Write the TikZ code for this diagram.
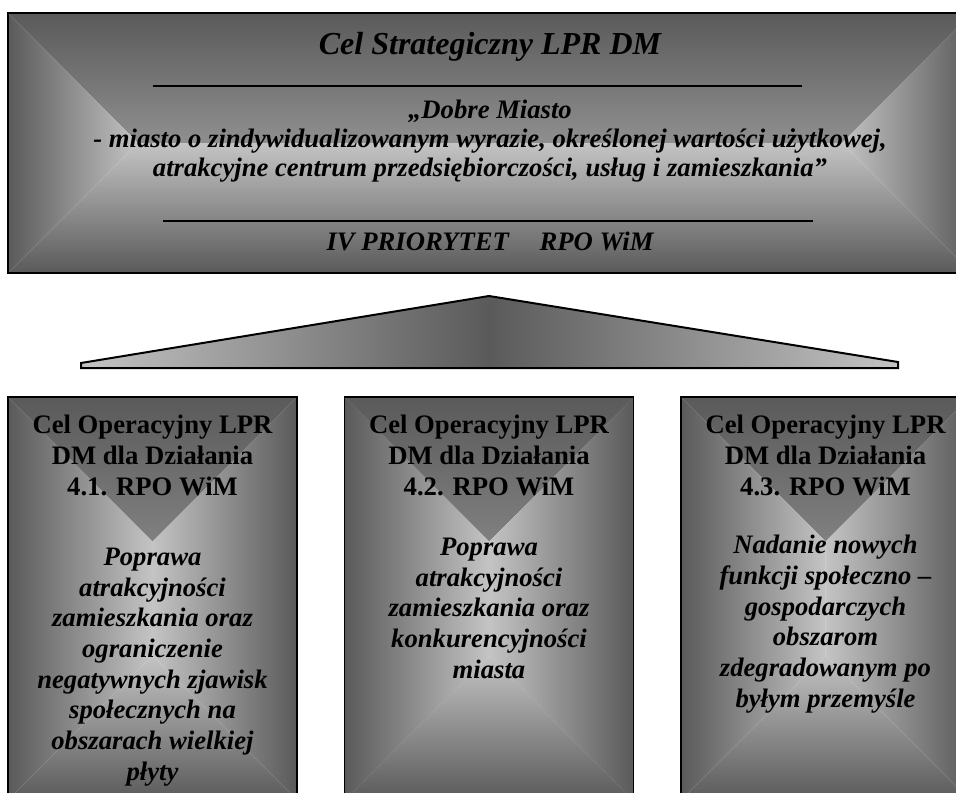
\documentclass[tikz,border=0pt]{standalone}
\usepackage{fontspec}
\setmainfont{Liberation Serif}

\definecolor{edgegray}{RGB}{90,90,90}
\definecolor{midgray}{RGB}{196,196,196}

% rectangular "from centre" shading, #1 = box, #2 = half of the shorter side
\newcommand{\insetshade}[2]{%
  \shade[top color=edgegray, bottom color=midgray] (#1.north west) -- (#1.north east) -- ([xshift=-#2,yshift=-#2]#1.north east) -- ([xshift=#2,yshift=-#2]#1.north west) -- cycle;
  \shade[top color=midgray, bottom color=edgegray] (#1.south west) -- (#1.south east) -- ([xshift=-#2,yshift=#2]#1.south east) -- ([xshift=#2,yshift=#2]#1.south west) -- cycle;
  \shade[left color=edgegray, right color=midgray] (#1.north west) -- ([xshift=#2,yshift=-#2]#1.north west) -- ([xshift=#2,yshift=#2]#1.south west) -- (#1.south west) -- cycle;
  \shade[left color=midgray, right color=edgegray] (#1.north east) -- ([xshift=-#2,yshift=-#2]#1.north east) -- ([xshift=-#2,yshift=#2]#1.south east) -- (#1.south east) -- cycle;
}

\begin{document}
\begin{tikzpicture}[
  x=0.75pt, y=-0.75pt,
  bigbox/.style={draw, line width=1.5pt, inner sep=0pt, outer sep=0pt, minimum width=723pt, minimum height=195pt,
    path picture={\insetshade{path picture bounding box}{97.5pt}}},
  opbox/.style={draw, line width=1.1pt, inner sep=0pt, outer sep=0pt, minimum width=216.75pt, minimum height=302.25pt,
    path picture={\insetshade{path picture bounding box}{108.4pt}}},
  title/.style={anchor=base, inner sep=0pt, font=\fontsize{24}{28}\selectfont\bfseries\itshape},
  vision/.style={anchor=base, inner sep=0pt, align=center, font=\fontsize{20}{21.75}\selectfont\bfseries\itshape},
  ophead/.style={anchor=base, inner sep=0pt, align=center, font=\fontsize{20}{23.25}\selectfont\bfseries},
  opbody/.style={anchor=base, inner sep=0pt, align=center, font=\fontsize{20}{23}\selectfont\bfseries\itshape},
  rule/.style={line width=1.5pt},
  wedge/.style={draw, line width=1.5pt, left color=midgray, right color=midgray, middle color=edgegray}
]
\useasboundingbox (0,0) rectangle (956,792);
\clip (0,0) rectangle (956,792);

% strategic goal (base anchor = last line)
\node[bigbox] (strategy) at (490,143) {};
\node[title] (goal) at (490,55) {Cel Strategiczny LPR DM};
\node[vision] (vision) at (490,176) {„Dobre Miasto\\- miasto o zindywidualizowanym wyrazie, określonej wartości użytkowej,\\atrakcyjne centrum przedsiębiorczości, usług i zamieszkania”};
\node[vision] (priority) at (490,250) {IV PRIORYTET\hspace{23pt}RPO WiM};
\draw[rule] (153,86) -- (802,86);
\draw[rule] (163,221) -- (813,221);

\draw[wedge] (81,368) -- (81,363) -- (489,296) -- (898,362) -- (898,368) -- cycle;

% operational goals
\node[opbox] (box1) at (152.5,598.5) {};
\node[opbox] (box2) at (489,598.5) {};
\node[opbox] (box3) at (825.5,598.5) {};

\node[ophead] (head1) at (152.5,495) {Cel Operacyjny LPR\\DM dla Działania\\4.1. RPO WiM};
\node[ophead] (head2) at (489,495) {Cel Operacyjny LPR\\DM dla Działania\\4.2. RPO WiM};
\node[ophead] (head3) at (825.5,495) {Cel Operacyjny LPR\\DM dla Działania\\4.3. RPO WiM};

\node[opbody] (aim1) at (152.5,780) {Poprawa\\atrakcyjności\\zamieszkania oraz\\ograniczenie\\negatywnych zjawisk\\społecznych na\\obszarach wielkiej\\płyty};
\node[opbody] (aim2) at (489,678) {Poprawa\\atrakcyjności\\zamieszkania oraz\\konkurencyjności\\miasta};
\node[opbody] (aim3) at (825.5,707) {Nadanie nowych\\funkcji społeczno –\\gospodarczych\\obszarom\\zdegradowanym po\\byłym przemyśle};
\end{tikzpicture}
\end{document}
